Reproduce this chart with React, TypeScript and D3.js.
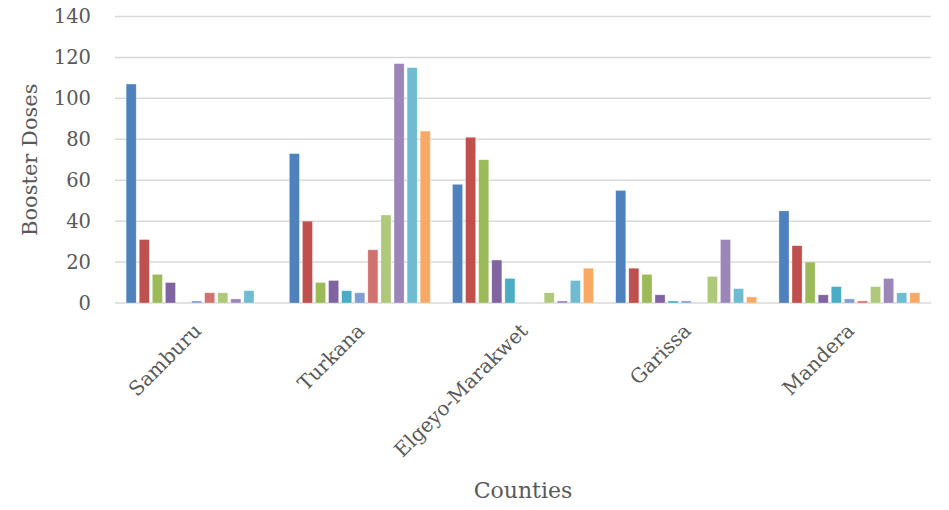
import React from "react";
import * as d3 from "d3";

const counties = ["Samburu", "Turkana", "Elgeyo-Marakwet", "Garissa", "Mandera"];
const seriesNames = ["S1", "S2", "S3", "S4", "S5", "S6", "S7", "S8", "S9", "S10", "S11"];
const seriesColors = [
  "#4F81BD", "#C0504D", "#9BBB59", "#8064A2", "#4BACC6",
  "#7E9FD0", "#D07270", "#AFC97B", "#9C86B8", "#6FBCD2", "#F9A966",
];
// values[series][county]
const s1 = [107, 73, 58, 55, 45];
const s2 = [31, 40, 81, 17, 28];
const s3 = [14, 10, 70, 14, 20];
const s4 = [10, 11, 21, 4, 4];
const s5 = [0, 6, 12, 1, 8];
const s6 = [1, 5, 0, 1, 2];
const s7 = [5, 26, 0, 0, 1];
const s8 = [5, 43, 5, 13, 8];
const s9 = [2, 117, 1, 31, 12];
const s10 = [6, 115, 11, 7, 5];
const s11 = [0, 84, 17, 3, 5];
const seriesValues = [s1, s2, s3, s4, s5, s6, s7, s8, s9, s10, s11];
const yTicks = [0, 20, 40, 60, 80, 100, 120, 140];

const W = 949;
const H = 510;
const left = 115;
const right = 931;
const top = 16.5;
const bottom = 303;
const FONT = "'DejaVu Serif', serif";
const TXT = "#595959";

export default function App() {
  const x0 = d3.scaleBand<string>().domain(counties).range([left, right]).padding(0);
  const x1 = d3
    .scaleBand<string>()
    .domain(seriesNames)
    .range([0, x0.bandwidth()])
    .paddingInner(0.23)
    .paddingOuter(0.85);
  const y = d3.scaleLinear().domain([0, 140]).range([bottom, top]);

  return (
    <svg width={W} height={H} style={{ position: "absolute", left: 0, top: 0, background: "#fff" }}>
      {yTicks.map((t) => (
        <g key={t}>
          <line x1={left} x2={right} y1={y(t)} y2={y(t)} stroke="#D9D9D9" strokeWidth={1.5} />
          <text x={91} y={y(t)} dy="0.35em" textAnchor="end" fontFamily={FONT} fontSize={19.5} fill={TXT}>
            {t}
          </text>
        </g>
      ))}
      {seriesValues.map((vals, si) =>
        vals.map((v, ci) =>
          v > 0 ? (
            <rect
              key={`${si}-${ci}`}
              x={(x0(counties[ci]) as number) + (x1(seriesNames[si]) as number)}
              y={y(v)}
              width={x1.bandwidth()}
              height={y(0) - y(v)}
              fill={seriesColors[si]}
              stroke="#ffffff"
              strokeOpacity={0.5}
              strokeWidth={0.6}
            />
          ) : null
        )
      )}
      {counties.map((c) => {
        const cx = (x0(c) as number) + x0.bandwidth() / 2;
        return (
          <text
            key={c}
            transform={`translate(${cx + 1},${327}) rotate(-45)`}
            textAnchor="end"
            dy="0.35em"
            fontFamily={FONT}
            fontSize={20}
            fill={TXT}
          >
            {c}
          </text>
        );
      })}
      <text
        transform={`translate(${37},${(top + bottom) / 2}) rotate(-90)`}
        textAnchor="middle"
        fontFamily={FONT}
        fontSize={21}
        fill={TXT}
      >
        Booster Doses
      </text>
      <text x={(left + right) / 2} y={498} textAnchor="middle" fontFamily={FONT} fontSize={22} fill={TXT}>
        Counties
      </text>
    </svg>
  );
}
